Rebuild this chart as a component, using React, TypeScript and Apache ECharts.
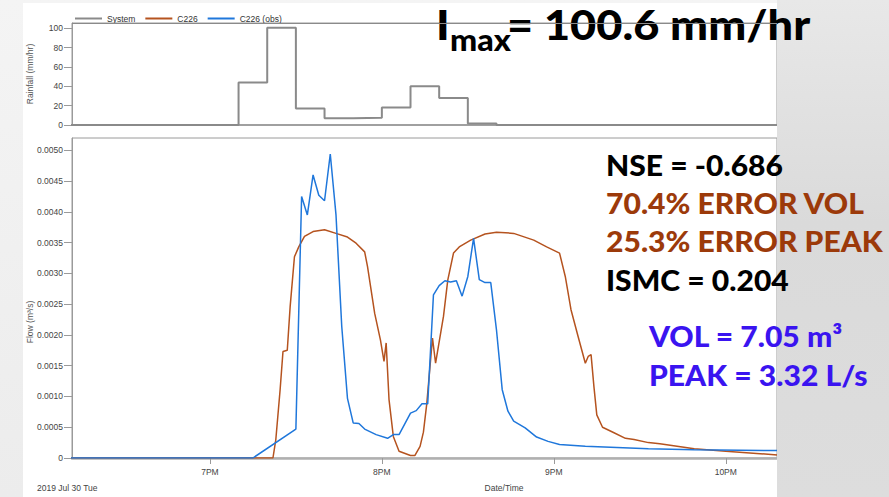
import React, { useEffect, useRef } from "react";
import * as echarts from "echarts";

// Legend entries, in draw order
const seriesNames = ["System", "C226", "C226 (obs)"];

// Rainfall intensity (mm/hr); each value holds until the next time stamp
const rainTimes = ["18:00", "19:10", "19:20", "19:30", "19:40", "19:50", "20:00", "20:10", "20:20", "20:30", "20:40", "22:30"];
const rainValues = [0, 44, 100.6, 17, 7, 7.6, 18, 40, 28, 1.6, 0, 0];

// Modelled flow at C226 (m³/s)
const modelFlow: [string, number][] = [
  ["18:00", 0], ["19:22", 0], ["19:23", 0.0003], ["19:24:30", 0.00111], ["19:25:30", 0.00173],
  ["19:27", 0.00175], ["19:28", 0.00246], ["19:29:30", 0.00327], ["19:31", 0.00343], ["19:33", 0.0036],
  ["19:36", 0.00368], ["19:40", 0.00371], ["19:44", 0.00365], ["19:48", 0.00359], ["19:51", 0.00349],
  ["19:54", 0.00335], ["19:55", 0.00311], ["19:57:30", 0.00235], ["19:59:30", 0.00192], ["20:00:45", 0.00157],
  ["20:01:30", 0.00187], ["20:02:30", 0.00095], ["20:04", 0.00035], ["20:06", 0.00011], ["20:10", 0.00004],
  ["20:11:30", 0.00004], ["20:13:20", 0.00019], ["20:14:30", 0.00042], ["20:15:40", 0.00088], ["20:17:40", 0.00195],
  ["20:18:45", 0.00154], ["20:21:30", 0.0023], ["20:23", 0.00289], ["20:25", 0.00333], ["20:27", 0.00343],
  ["20:31", 0.00354], ["20:36", 0.00364], ["20:40", 0.00367], ["20:46", 0.00365], ["20:53", 0.00354],
  ["20:57:30", 0.00343], ["21:02", 0.00333], ["21:04", 0.00295], ["21:06", 0.00241], ["21:08:30", 0.00197],
  ["21:11", 0.00154], ["21:12", 0.00165], ["21:13", 0.00168], ["21:14", 0.00116], ["21:15", 0.0007],
  ["21:17", 0.0005], ["21:21", 0.00041], ["21:25", 0.00032], ["21:28", 0.0003], ["21:33", 0.00025],
  ["21:37", 0.00023], ["21:49", 0.00015], ["22:00", 0.00011], ["22:12", 0.00007], ["22:18", 0.00005],
  ["22:30", 0.00004],
];

// Observed flow at C226 (m³/s)
const obsFlow: [string, number][] = [
  ["18:00", 0], ["19:15", 0], ["19:30", 0.00047], ["19:32", 0.00425], ["19:34", 0.00395],
  ["19:36", 0.0046], ["19:38", 0.00427], ["19:40", 0.00418], ["19:42", 0.00494], ["19:44", 0.00395],
  ["19:46", 0.00214], ["19:48", 0.00097], ["19:50", 0.00057], ["19:52", 0.00056], ["19:54", 0.00047],
  ["19:58", 0.00038], ["20:02", 0.00032], ["20:04", 0.00038], ["20:06", 0.00038], ["20:10", 0.00073],
  ["20:12", 0.00077], ["20:14", 0.00088], ["20:16", 0.00088], ["20:18", 0.00265], ["20:20", 0.0028],
  ["20:22", 0.00288], ["20:24", 0.00286], ["20:26", 0.00288], ["20:28", 0.00263], ["20:30", 0.00295],
  ["20:32", 0.00357], ["20:34", 0.0029], ["20:36", 0.00285], ["20:38", 0.00285], ["20:40", 0.00208],
  ["20:42", 0.00111], ["20:44", 0.00076], ["20:46", 0.0006], ["20:50", 0.00049], ["20:54", 0.00034],
  ["20:58", 0.00027], ["21:02", 0.00022], ["21:11", 0.00019], ["21:22", 0.00017], ["21:33", 0.00015],
  ["21:49", 0.000135], ["22:18", 0.00012], ["22:30", 0.00012],
];

// Axis ticks
const rainTicks = [0, 20, 40, 60, 80, 100];
const flowTicks = [0, 0.0005, 0.001, 0.0015, 0.002, 0.0025, 0.003, 0.0035, 0.004, 0.0045, 0.005];
const hourTicks = [19, 20, 21, 22];
const hourLabels = ["7PM", "8PM", "9PM", "10PM"];

// Visible time window (hours of day)
const timeStart = 18.198;
const timeEnd = 22.298;

// Summary statistics shown beside the hydrograph
const intensityLabel = "= 100.6 mm/hr";
const fitLines = [
  { text: "NSE = -0.686", color: "#000000" },
  { text: "70.4% ERROR VOL", color: "#9c3a0a" },
  { text: "25.3% ERROR PEAK", color: "#9c3a0a" },
  { text: "ISMC = 0.204", color: "#000000" },
];
const obsLines = ["VOL = 7.05 m³", "PEAK = 3.32 L/s"];

const toHours = (t: string) => {
  const [h, m, s] = t.split(":").map(Number);
  return h + m / 60 + (s || 0) / 3600;
};

const AXIS_FONT = "'Liberation Sans', Arial, sans-serif";
const BIG_FONT = "Lato, 'Open Sans', sans-serif";
const WIDE = 1.075;

export default function App() {
  const ref = useRef<HTMLDivElement>(null);

  useEffect(() => {
    if (!ref.current) return;
    const chart = echarts.init(ref.current, null, { renderer: "svg" });

    const axisLabelStyle = { fontFamily: AXIS_FONT, fontSize: 8.5, color: "#444" };
    const gray = "#9a9a9a";

    const bigText = (text: string, x: number, y: number, size: number, fill: string) => ({
      type: "text", z: 11, x, y, scaleX: WIDE,
      style: { text, fontFamily: BIG_FONT, fontWeight: 900, fontSize: size, fill, align: "left", verticalAlign: "middle" },
    });

    const option: any = {
      animation: false,
      backgroundColor: "transparent",
      legend: {
        data: seriesNames,
        left: 70,
        top: 9,
        icon: "rect",
        itemWidth: 27,
        itemHeight: 2,
        itemGap: 10,
        textStyle: { fontFamily: AXIS_FONT, fontSize: 8.5, color: "#333" },
      },
      grid: [
        { left: 72, right: 112, top: 23, height: 102, show: true, borderColor: gray, borderWidth: 1, backgroundColor: "transparent" },
        { left: 72, right: 112, top: 138, height: 320, show: true, borderColor: gray, borderWidth: 1, backgroundColor: "transparent" },
      ],
      xAxis: [
        {
          type: "value", gridIndex: 0, min: timeStart, max: timeEnd,
          axisLine: { show: true, lineStyle: { color: "#a0a0a0", width: 2 } },
          axisTick: { show: false }, axisLabel: { show: false }, splitLine: { show: false },
        },
        {
          type: "value", gridIndex: 1, min: timeStart, max: timeEnd,
          axisLine: { show: true, lineStyle: { color: "#b0b0b0", width: 2.5 } },
          axisTick: { show: true, customValues: hourTicks, length: 6, lineStyle: { color: gray } },
          axisLabel: {
            ...axisLabelStyle, margin: 9, customValues: hourTicks,
            formatter: (v: number) => hourLabels[hourTicks.indexOf(Math.round(v))] ?? "",
          },
          splitLine: { show: false },
        },
      ],
      yAxis: [
        {
          type: "value", gridIndex: 0, min: 0, max: 105.6,
          axisLine: { show: true, lineStyle: { color: gray, width: 1 } },
          axisTick: { show: true, customValues: rainTicks, length: 8, lineStyle: { color: gray } },
          axisLabel: { ...axisLabelStyle, margin: 9, customValues: rainTicks },
          splitLine: { show: false },
        },
        {
          type: "value", gridIndex: 1, min: 0, max: 0.0052,
          axisLine: { show: true, lineStyle: { color: gray, width: 1 } },
          axisTick: { show: true, customValues: flowTicks, length: 8, lineStyle: { color: gray } },
          axisLabel: {
            ...axisLabelStyle, margin: 9, customValues: flowTicks,
            formatter: (v: number) => (v === 0 ? "0" : v.toFixed(4)),
          },
          splitLine: { show: false },
        },
      ],
      series: [
        {
          name: seriesNames[0], type: "line", xAxisIndex: 0, yAxisIndex: 0, step: "end",
          showSymbol: false, symbol: "none", color: "#8a8a8a",
          lineStyle: { width: 2, color: "#8a8a8a" },
          data: rainTimes.map((t, i) => [toHours(t), rainValues[i]]),
        },
        {
          name: seriesNames[1], type: "line", xAxisIndex: 1, yAxisIndex: 1,
          showSymbol: false, symbol: "none", color: "#b5531f",
          lineStyle: { width: 1.5, color: "#b5531f" },
          data: modelFlow.map(([t, v]) => [toHours(t), v]),
        },
        {
          name: seriesNames[2], type: "line", xAxisIndex: 1, yAxisIndex: 1,
          showSymbol: false, symbol: "none", color: "#1f77db",
          lineStyle: { width: 1.5, color: "#1f77db" },
          data: obsFlow.map(([t, v]) => [toHours(t), v]),
        },
      ],
      graphic: [
        // slide backdrop around the chart image
        {
          type: "rect", z: -20, silent: true,
          shape: { x: 0, y: 0, width: 889, height: 497 },
          style: { fill: new echarts.graphic.LinearGradient(0, 0, 0, 1, [
            { offset: 0, color: "#f4f4f4" }, { offset: 1, color: "#ececec" },
          ]) },
        },
        { type: "rect", z: -19, silent: true, shape: { x: 23, y: 3, width: 760, height: 494 }, style: { fill: "#ffffff" } },
        // right-hand panel that cuts the chart off
        {
          type: "rect", z: 10, silent: true,
          shape: { x: 777, y: 0, width: 112, height: 497 },
          style: { fill: new echarts.graphic.LinearGradient(0, 0, 0, 1, [
            { offset: 0, color: "#e8e8e8" }, { offset: 0.45, color: "#dadada" }, { offset: 1, color: "#dddddd" },
          ]) },
        },
        // axis titles
        {
          type: "text", z: 5, x: 30, y: 74, rotation: Math.PI / 2,
          style: { text: "Rainfall (mm/hr)", fontFamily: AXIS_FONT, fontSize: 8.5, fill: "#555", align: "center", verticalAlign: "middle" },
        },
        {
          type: "text", z: 5, x: 30, y: 322, rotation: Math.PI / 2,
          style: { text: "Flow (m³/s)", fontFamily: AXIS_FONT, fontSize: 8.5, fill: "#555", align: "center", verticalAlign: "middle" },
        },
        {
          type: "text", z: 5, x: 37, y: 488,
          style: { text: "2019 Jul 30 Tue", fontFamily: AXIS_FONT, fontSize: 8.5, fill: "#444", align: "left", verticalAlign: "middle" },
        },
        {
          type: "text", z: 5, x: 504, y: 488,
          style: { text: "Date/Time", fontFamily: AXIS_FONT, fontSize: 8.5, fill: "#444", align: "center", verticalAlign: "middle" },
        },
        // peak rainfall intensity
        bigText("I", 436, 24, 42, "#000"),
        bigText("max", 450, 39, 30, "#000"),
        bigText(intensityLabel, 507, 24, 42, "#000"),
        { type: "line", z: 12, silent: true, shape: { x1: 72, y1: 23.5, x2: 777, y2: 23.5 }, style: { stroke: "#8a8a8a", lineWidth: 1 } },
        // goodness-of-fit statistics
        ...fitLines.map((l, i) => bigText(l.text, 606, [165, 203, 241, 280][i], 28, l.color)),
        // observed event totals
        ...obsLines.map((t, i) => bigText(t, 649, [336, 375][i], 28, "#3a14f0")),
      ],
    };

    chart.setOption(option);
    return () => chart.dispose();
  }, []);

  return <div ref={ref} style={{ position: "absolute", left: 0, top: 0, width: 889, height: 497 }} />;
}
